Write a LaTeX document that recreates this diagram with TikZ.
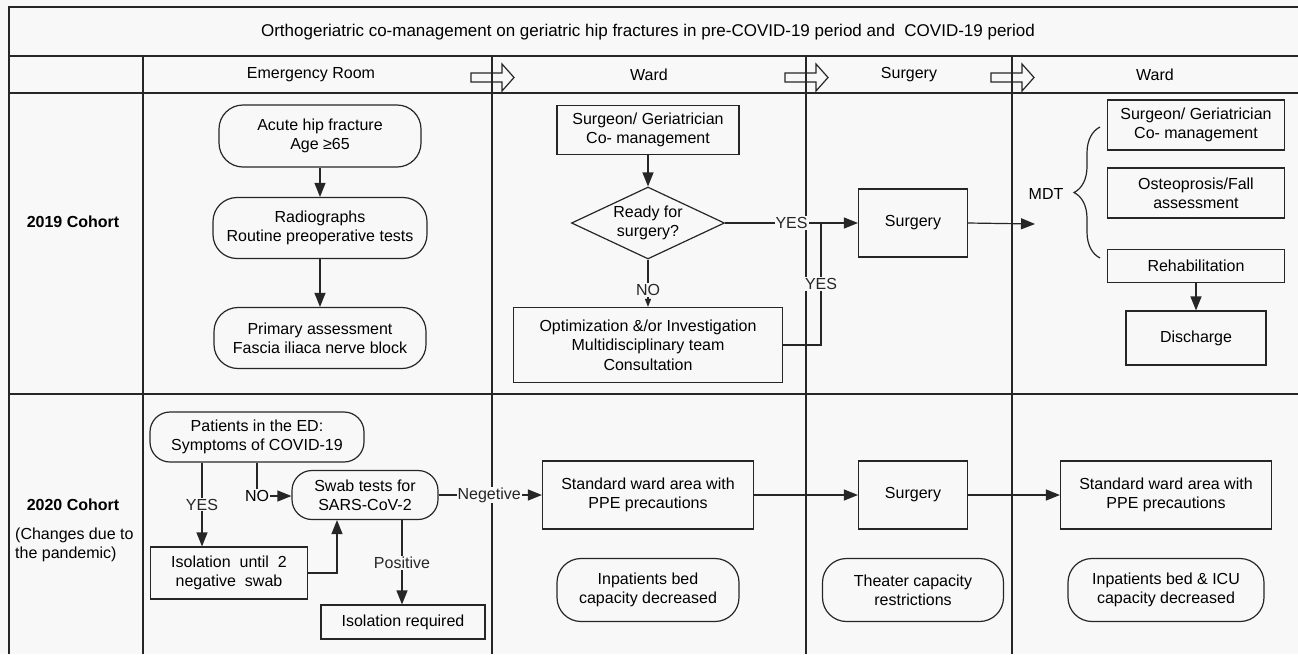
\documentclass[tikz,border=0pt]{standalone}
\usepackage{fontspec}
\setmainfont{Liberation Sans}
\usetikzlibrary{arrows.meta,shapes.geometric,decorations.pathreplacing}
\definecolor{bg}{RGB}{248,248,248}
\begin{document}
\begin{tikzpicture}[x=1pt,y=-1pt,
  font=\fontsize{16}{19.3}\selectfont,
  grid/.style={line width=1.4pt,black!85},
  harrow/.style={line width=1.2pt,black!85,line join=miter},
  box/.style={draw=black!85,line width=1.2pt,rectangle,align=center,inner sep=0pt},
  rbox/.style={box,rounded corners=24pt},
  lbl/.style={fill=bg,inner sep=1pt},
  conn/.style={line width=1.2pt,black!85},
  arr/.style={conn,-{Triangle[length=14pt,width=11pt]}},
  sarr/.style={conn,-{Triangle[length=8pt,width=6pt]}}]
\fill[bg] (0,0) rectangle (1298,654);
\useasboundingbox (0,0) rectangle (1298,654);
% table grid
\draw[grid] (1298,7) -- (9,7) -- (9,654);
\draw[grid] (9,56) -- (1298,56);
\draw[grid] (9,93) -- (1298,93);
\draw[grid] (9,394) -- (1298,394);
\foreach \x in {492,806,1012}{
  \draw[harrow] ({\x-21},73) -- ({\x+10},73) -- ({\x+10},64) -- ({\x+22},77.5) -- ({\x+10},91) -- ({\x+10},82) -- ({\x-21},82) -- cycle;
}
\foreach \x in {143,492,806,1012}{
  \draw[grid] (\x,56) -- (\x,654);
}
% headers
\node[font=\fontsize{17}{20}\selectfont] (title) at (648,32) {Orthogeriatric co-management on geriatric hip fractures in pre-COVID-19 period and\ \ COVID-19 period};
\node (hER) at (311,75) {Emergency Room};
\node (hW1) at (649,75) {Ward};
\node (hS) at (909,75) {Surgery};
\node (hW2) at (1155,75) {Ward};
% row labels
\node[font=\fontsize{16}{19.3}\selectfont\bfseries] (coh19) at (73,222) {2019 Cohort};
\node[font=\fontsize{16}{19.3}\selectfont\bfseries] (coh20) at (73,505) {2020 Cohort};
\node[anchor=west,align=left,inner sep=0pt] (chg) at (15,545) {(Changes due to\\the pandemic)};
% 2019 ER
\node[rbox,minimum width=202pt,minimum height=62pt] (a1) at (320,136) {Acute hip fracture\\Age ≥65};
\node[rbox,minimum width=214pt,minimum height=61pt] (a2) at (320,228) {Radiographs\\Routine preoperative tests};
\node[rbox,minimum width=212pt,minimum height=61pt] (a3) at (320,338) {Primary assessment\\Fascia iliaca nerve block};
\draw[arr] (a1) -- (a2);
\draw[arr] (a2) -- (a3);
% 2019 ward
\node[box,minimum width=182pt,minimum height=49pt] (b1) at (648,130) {Surgeon/ Geriatrician\\Co- management};
\node[diamond,draw=black!85,line width=1.2pt,aspect=2.1,inner sep=0pt,minimum width=153pt,minimum height=72pt,align=center] (dia) at (648,223) {Ready for\\surgery?};
\node[box,minimum width=269pt,minimum height=75pt] (opt) at (648,345) {Optimization \&/or Investigation\\Multidisciplinary team\\Consultation};
\node[box,minimum width=109pt,minimum height=68pt] (s1) at (913,223) {Surgery};
\draw[arr] (b1) -- (dia);
\draw[sarr] (dia.south) -- node[lbl,pos=0.64] (no1) {NO} (opt.north);
\draw[arr] (dia.east) -- node[lbl,pos=0.5] (yes1) {YES} (s1.west);
\coordinate (j) at (821,223);
\draw[conn] (opt.east) -| node[lbl,pos=0.75] (yes2) {YES} (j);
% 2019 post-op ward
\coordinate (mdtin) at (1035,224);
\draw[arr] (s1.east) -- (mdtin);
\node (mdt) at (1046,194) {MDT};
\draw[conn,decorate,decoration={brace,amplitude=26pt}] (1100,258) -- (1100,127);
\node[box,minimum width=177pt,minimum height=50pt] (c1) at (1196,125) {Surgeon/ Geriatrician\\Co- management};
\node[box,minimum width=177pt,minimum height=50pt] (c2) at (1196,193) {Osteoprosis/Fall\\assessment};
\node[box,minimum width=177pt,minimum height=33pt] (c3) at (1196,266) {Rehabilitation};
\node[box,minimum width=140pt,minimum height=54pt] (c4) at (1196,338) {Discharge};
\draw[arr] (c3) -- (c4);
% 2020 ER
\node[rbox,minimum width=214pt,minimum height=50pt,rounded corners=20pt] (p1) at (257,437) {Patients in the ED:\\Symptoms of COVID-19};
\node[rbox,minimum width=146pt,minimum height=49pt,rounded corners=20pt] (sw) at (365,495) {Swab tests for\\SARS-CoV-2};
\node[box,minimum width=157pt,minimum height=52pt] (iso) at (229,573) {Isolation\ \ until\ \ 2\\negative\ \ swab};
\node[box,minimum width=164pt,minimum height=34pt] (isoreq) at (403,622) {Isolation required};
\draw[arr] (p1.south -| 202,0) -- node[lbl,pos=0.5] (yes3) {YES} (iso.north -| 202,0);
\node[lbl] (no2) at (257,496) {NO};
\draw[conn] (p1.south -| no2) -- (no2.north);
\draw[arr] (no2.east) -- (sw.west |- no2.east);
\coordinate (isoc) at (337,573);
\draw[arr] (iso.east |- isoc) -- (isoc) -- (sw.south -| isoc);
\draw[arr] (sw.south -| 402,0) -- node[lbl,pos=0.51] (pos1) {Positive} (isoreq.north -| 402,0);
% 2020 ward, surgery, ward
\node[box,minimum width=211pt,minimum height=68pt] (w1) at (648,495) {Standard ward area with\\PPE precautions};
\node[rbox,minimum width=182pt,minimum height=63pt] (cap1) at (648,590) {Inpatients bed\\capacity decreased};
\node[box,minimum width=109pt,minimum height=68pt] (s2) at (913,495) {Surgery};
\node[rbox,minimum width=181pt,minimum height=63pt] (cap2) at (913,590) {Theater capacity\\restrictions};
\node[box,minimum width=211pt,minimum height=68pt] (w2) at (1166,495) {Standard ward area with\\PPE precautions};
\node[rbox,minimum width=196pt,minimum height=63pt] (cap3) at (1166,590) {Inpatients bed \& ICU\\capacity decreased};
\draw[arr] (sw.east) -- node[lbl,pos=0.49] (neg) {Negetive} (w1.west);
\draw[arr] (w1) -- (s2);
\draw[arr] (s2) -- (w2);
\end{tikzpicture}
\end{document}
